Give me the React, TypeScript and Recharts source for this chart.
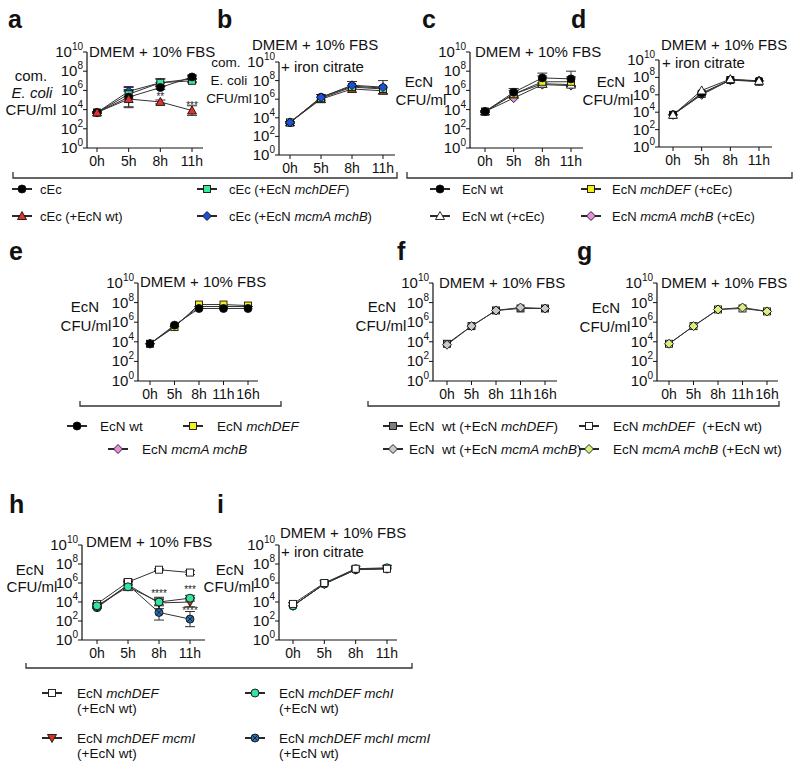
import React from "react";
import { LineChart, Line, XAxis, YAxis, ErrorBar, LabelList } from "recharts";

const HOURS4 = ["0h", "5h", "8h", "11h"];
const HOURS5 = ["0h", "5h", "8h", "11h", "16h"];
const Y_TICKS = [0, 2, 4, 6, 8, 10];
const TITLE = "DMEM + 10% FBS";
const IRON = "+ iron citrate";

// all values are log10 CFU/ml
// a: commensal E. coli
const aCEc = [3.7, 5.3, 6.3, 7.4];
const aCEcErr = [0.1, 1.0, 0.2, 0.2];
const aCEcWt = [3.7, 5.1, 4.8, 3.9];
const aCEcWtErr = [0.1, 0.9, 0.2, 0.5];
const aCEcWtStars = ["", "", "**", "***"];
const aCEcMch = [3.7, 5.6, 6.8, 7.0];
const aCEcMchErr = [0.1, 0.5, 0.4, 0.2];
const aCEcMcm = [3.7, 5.9, 6.8, 7.2];
const aCEcMcmErr = [0.1, 0.5, 0.4, 0.3];

// b: commensal E. coli + iron citrate
const bCEc = [3.5, 6.2, 7.4, 7.2];
const bCEcWt = [3.5, 6.0, 7.1, 6.9];
const bCEcMch = [3.5, 6.1, 7.3, 7.1];
const bCEcMcm = [3.5, 6.2, 7.5, 7.3];
const bCEcMcmErr = [0.1, 0.3, 0.4, 0.7];

// c: EcN
const cWt = [3.8, 5.8, 7.3, 7.2];
const cWtErr = [0.1, 0.4, 0.5, 0.8];
const cWtCEc = [3.8, 5.6, 6.7, 6.6];
const cMch = [3.8, 5.6, 6.9, 6.9];
const cMchErr = [0.1, 0.4, 0.6, 0.5];
const cMcm = [3.8, 5.2, 6.6, 6.5];

// d: EcN + iron citrate
const dWt = [3.7, 6.2, 7.7, 7.6];
const dWtCEc = [3.7, 6.5, 7.8, 7.6];
const dMch = [3.7, 6.1, 7.7, 7.5];
const dMcm = [3.7, 6.0, 7.7, 7.6];

// e: EcN mono culture
const eWt = [3.8, 5.7, 7.4, 7.4, 7.4];
const eMch = [3.8, 5.5, 7.8, 7.8, 7.7];
const eMcm = [3.8, 5.6, 7.6, 7.6, 7.6];

// f, g: co-culture
const fWtMch = [3.8, 5.6, 7.2, 7.4, 7.4];
const fWtMcm = [3.7, 5.6, 7.2, 7.5, 7.4];
const gMchWt = [3.8, 5.6, 7.3, 7.4, 7.1];
const gMcmWt = [3.8, 5.6, 7.3, 7.5, 7.1];

// h: EcN mutants + EcN wt
const hMch = [3.8, 6.1, 7.4, 7.1];
const hMchErr = [0.1, 0.3, 0.1, 0.2];
const hMchI = [3.6, 5.6, 4.0, 4.4];
const hMchIErr = [0.1, 0.4, 0.4, 0.3];
const hMchIStars = ["", "", "****", "***"];
const hMcmI = [3.5, 5.8, 3.9, 4.0];
const hMcmIErr = [0.1, 0.4, 0.6, 0.5];
const hBoth = [3.4, 5.8, 2.9, 2.2];
const hBothErr = [0.1, 0.4, 0.8, 0.8];
const hBothStars = ["", "", "", "****"];

// i: EcN mutants + EcN wt + iron citrate
const iMch = [3.8, 6.0, 7.5, 7.5];
const iMchI = [3.6, 5.9, 7.5, 7.6];
const iMcmI = [3.6, 5.9, 7.4, 7.5];
const iBoth = [3.6, 5.9, 7.4, 7.5];

const RED = "#e5312b";
const GREEN = "#3ee89a";
const BLUE = "#1f4fd6";
const YELLOW = "#f6ee1c";
const PINK = "#ea8fe0";
const DGRAY = "#7c7c7c";
const LGRAY = "#c9c9c9";
const LIME = "#d8f07c";
const MINT = "#33e39e";
const HRED = "#d8321d";
const HBLUE = "#2a6db3";

type Series = { values: number[]; err?: number[]; stars?: string[]; shape: string; fill: string };
type Box = { ax0: number; ay0: number; ay1: number; ax1: number; p0: number; pN: number };

function Marker({ cx, cy, shape, fill }: { cx?: number; cy?: number; shape: string; fill: string }) {
  if (cx == null || cy == null) return null;
  const st = { fill, stroke: "#111", strokeWidth: 0.9 };
  switch (shape) {
    case "square":
      return <rect x={cx - 3.5} y={cy - 3.5} width={7} height={7} {...st} />;
    case "tri":
      return <path d={`M${cx} ${cy - 4.5}L${cx + 4.5} ${cy + 3.5}L${cx - 4.5} ${cy + 3.5}Z`} {...st} />;
    case "triDown":
      return <path d={`M${cx} ${cy + 4.5}L${cx + 4.5} ${cy - 3.5}L${cx - 4.5} ${cy - 3.5}Z`} {...st} />;
    case "diamond":
      return <path d={`M${cx} ${cy - 4.5}L${cx + 4.5} ${cy}L${cx} ${cy + 4.5}L${cx - 4.5} ${cy}Z`} {...st} />;
    case "circleX":
      return (
        <g>
          <circle cx={cx} cy={cy} r={4} {...st} />
          <path d={`M${cx - 2.8} ${cy - 2.8}L${cx + 2.8} ${cy + 2.8}M${cx - 2.8} ${cy + 2.8}L${cx + 2.8} ${cy - 2.8}`} stroke="#111" strokeWidth={0.8} />
        </g>
      );
    default:
      return <circle cx={cx} cy={cy} r={4} {...st} />;
  }
}

function PowTick(props: any) {
  const { x, y, payload } = props;
  return (
    <text x={x + 2} y={y} dy={5} textAnchor="end" fontSize={15} fill="#111">
      10<tspan dy={-7} fontSize={10}>{payload.value}</tspan>
    </text>
  );
}

function Panel({ box, hours, series, starOffset = 5 }: { box: Box; hours: string[]; series: Series[]; starOffset?: number }) {
  const yW = 60;
  const mt = 10;
  const xH = 28;
  const mr = 4;
  const w = box.ax1 - box.ax0 + yW + mr;
  const h = box.ay1 - box.ay0 + mt + xH;
  const rows = hours.map((t, i) => {
    const r: any = { t };
    series.forEach((s, k) => {
      r["v" + k] = s.values[i];
      if (s.err) r["e" + k] = s.err[i];
      if (s.stars) r["s" + k] = s.stars[i];
    });
    return r;
  });
  return (
    <div style={{ position: "absolute", left: box.ax0 - yW, top: box.ay0 - mt }}>
      <LineChart width={w} height={h} data={rows} margin={{ top: mt, right: mr, bottom: 0, left: 0 }}>
        <XAxis
          dataKey="t"
          interval={0}
          height={xH}
          padding={{ left: box.p0 - box.ax0, right: box.ax1 - box.pN }}
          tickSize={4}
          tickMargin={4}
          tick={{ fontSize: 14, fill: "#111" }}
          axisLine={{ stroke: "#111", strokeWidth: 1.2 }}
          tickLine={{ stroke: "#111" }}
        />
        <YAxis
          type="number"
          width={yW}
          domain={[0, 10]}
          ticks={Y_TICKS}
          interval={0}
          tickSize={4}
          tick={<PowTick />}
          axisLine={{ stroke: "#111", strokeWidth: 1.2 }}
          tickLine={{ stroke: "#111" }}
        />
        {series.map((s, k) => (
          <Line
            key={k}
            dataKey={"v" + k}
            stroke="#333"
            strokeWidth={1}
            isAnimationActive={false}
            activeDot={false}
            dot={(p: any) => <Marker key={`m${k}-${p.index}`} cx={p.cx} cy={p.cy} shape={s.shape} fill={s.fill} />}
          >
            {s.err && <ErrorBar dataKey={"e" + k} width={5} stroke="#333" strokeWidth={1} direction="y" />}
            {s.stars && (
              <LabelList dataKey={"s" + k} position="top" offset={starOffset} fontSize={10} fill="#222" stroke="none" />
            )}
          </Line>
        ))}
      </LineChart>
    </div>
  );
}

const boxA = { ax0: 87, ay0: 52, ay1: 148, ax1: 203, p0: 97, pN: 192 };
const boxB = { ax0: 279, ay0: 62, ay1: 155, ax1: 395, p0: 290, pN: 383 };
const boxC = { ax0: 470, ay0: 52, ay1: 148, ax1: 583, p0: 485, pN: 571 };
const boxD = { ax0: 659, ay0: 60, ay1: 147, ax1: 772, p0: 673, pN: 759 };
const boxE = { ax0: 138, ay0: 283, ay1: 381, ax1: 258, p0: 150, pN: 248 };
const boxF = { ax0: 433, ay0: 283, ay1: 381, ax1: 557, p0: 447, pN: 545 };
const boxG = { ax0: 657, ay0: 283, ay1: 381, ax1: 778, p0: 669, pN: 767 };
const boxH = { ax0: 82, ay0: 545, ay1: 640, ax1: 205, p0: 97, pN: 190 };
const boxI = { ax0: 279, ay0: 545, ay1: 640, ax1: 397, p0: 293, pN: 387 };

type Seg = [string, boolean?];

function LegendItem({ x, y, tx, shape, fill, label, second, narrow }: { x: number; y: number; tx: number; shape: string; fill: string; label: Seg[]; second?: string; narrow?: boolean }) {
  const font = narrow ? "'Liberation Sans Narrow', 'Arial Narrow', 'Liberation Sans', sans-serif" : "'Liberation Sans', Arial, sans-serif";
  const fs = narrow ? 13 : 13.5;
  return (
    <g>
      <line x1={x - 10} x2={x + 10} y1={y} y2={y} stroke="#111" strokeWidth={1.8} />
      <Marker cx={x} cy={y} shape={shape} fill={fill} />
      <text x={tx} y={y} dy={4.5} fontSize={fs} fontFamily={font} fill="#111" style={{ whiteSpace: "pre" }}>
        {label.map(([t, it], i) => (
          <tspan key={i} fontStyle={it ? "italic" : "normal"}>{t}</tspan>
        ))}
      </text>
      {second && (
        <text x={tx} y={y + 15} dy={4.5} fontSize={fs} fontFamily={font} fill="#111">
          {second}
        </text>
      )}
    </g>
  );
}

function Overlay() {
  const t = (x: number, y: number, s: string, key: string) => (
    <text key={key} x={x} y={y} dy={5} fontSize={15} fill="#111">{s}</text>
  );
  const yl = (x: number, y: number, s: string, key: string, italic?: boolean, fs = 15) => (
    <text key={key} x={x} y={y} dy={5} fontSize={fs} fill="#111" textAnchor="middle" fontStyle={italic ? "italic" : "normal"}>{s}</text>
  );
  const letter = (x: number, y: number, s: string) => (
    <text key={"L" + s} x={x} y={y} fontSize={25} fontWeight="bold" fill="#111">{s}</text>
  );
  return (
    <svg width={800} height={769} style={{ position: "absolute", left: 0, top: 0, pointerEvents: "none" }}>
      {letter(8, 28, "a")}
      {letter(217, 28, "b")}
      {letter(422, 28, "c")}
      {letter(571, 28, "d")}
      {letter(9, 260, "e")}
      {letter(397, 260, "f")}
      {letter(577, 260, "g")}
      {letter(9, 513, "h")}
      {letter(217, 513, "i")}

      {t(89, 52, TITLE, "ta")}
      {t(252, 45, TITLE, "tb")}
      {t(281, 67, IRON, "tb2")}
      {t(475, 52, TITLE, "tc")}
      {t(661, 45, TITLE, "td")}
      {t(662, 63, IRON, "td2")}
      {t(140, 282, TITLE, "te")}
      {t(439, 283, TITLE, "tf")}
      {t(661, 283, TITLE, "tg")}
      {t(86, 542, TITLE, "th")}
      {t(280, 533, TITLE, "ti")}
      {t(281, 552, IRON, "ti2")}

      {yl(31, 76, "com.", "ya1")}
      {yl(32, 93, "E. coli", "ya2", true)}
      {yl(31, 110, "CFU/ml", "ya3")}
      {yl(226, 62, "com.", "yb1", false, 13.5)}
      {yl(229, 80, "E. coli", "yb2", false, 13.5)}
      {yl(229, 98, "CFU/ml", "yb3", false, 13.5)}
      {yl(419, 82, "EcN", "yc1")}
      {yl(421, 100, "CFU/ml", "yc2")}
      {yl(611, 82, "EcN", "yd1")}
      {yl(608, 100, "CFU/ml", "yd2")}
      {yl(85, 307, "EcN", "ye1")}
      {yl(86, 326, "CFU/ml", "ye2")}
      {yl(382, 307, "EcN", "yf1")}
      {yl(381, 326, "CFU/ml", "yf2")}
      {yl(606, 308, "EcN", "yg1")}
      {yl(605, 327, "CFU/ml", "yg2")}
      {yl(30, 570, "EcN", "yh1")}
      {yl(32, 587, "CFU/ml", "yh2")}
      {yl(230, 570, "EcN", "yi1")}
      {yl(229, 587, "CFU/ml", "yi2")}

      <g stroke="#333" strokeWidth={1.3} fill="none">
        <path d="M13 172V178H397V172" />
        <path d="M407 172V178H792V172" />
        <path d="M80 401V406H281V401" />
        <path d="M368 401V406H779V401" />
        <path d="M26 663V668H412V663" />
      </g>

      <LegendItem narrow x={22} y={189} tx={40} shape="circle" fill="#000" label={[["cEc"]]} />
      <LegendItem narrow x={207} y={189} tx={229} shape="square" fill={GREEN} label={[["cEc (+EcN "], ["mchDEF", true], [")"]]} />
      <LegendItem narrow x={22} y={216} tx={40} shape="tri" fill={RED} label={[["cEc (+EcN wt)"]]} />
      <LegendItem narrow x={207} y={216} tx={229} shape="diamond" fill={BLUE} label={[["cEc (+EcN "], ["mcmA mchB", true], [")"]]} />
      <LegendItem narrow x={440} y={189} tx={462} shape="circle" fill="#000" label={[["EcN wt"]]} />
      <LegendItem narrow x={591} y={189} tx={612} shape="square" fill={YELLOW} label={[["EcN "], ["mchDEF", true], [" (+cEc)"]]} />
      <LegendItem narrow x={440} y={216} tx={462} shape="tri" fill="#fff" label={[["EcN wt (+cEc)"]]} />
      <LegendItem narrow x={591} y={216} tx={612} shape="diamond" fill={PINK} label={[["EcN "], ["mcmA mchB", true], [" (+cEc)"]]} />

      <LegendItem x={77} y={426} tx={100} shape="circle" fill="#000" label={[["EcN wt"]]} />
      <LegendItem x={193} y={426} tx={217} shape="square" fill={YELLOW} label={[["EcN "], ["mchDEF", true]]} />
      <LegendItem x={118} y={449} tx={142} shape="diamond" fill={PINK} label={[["EcN "], ["mcmA mchB", true]]} />

      <LegendItem x={393} y={426} tx={409} shape="square" fill={DGRAY} label={[["EcN  wt (+EcN "], ["mchDEF", true], [")"]]} />
      <LegendItem x={589} y={426} tx={613} shape="square" fill="#fff" label={[["EcN "], ["mchDEF", true], ["  (+EcN wt)"]]} />
      <LegendItem x={393} y={449} tx={409} shape="diamond" fill={LGRAY} label={[["EcN  wt (+EcN "], ["mcmA mchB", true], [")"]]} />
      <LegendItem x={589} y={449} tx={613} shape="diamond" fill={LIME} label={[["EcN "], ["mcmA mchB", true], [" (+EcN wt)"]]} />

      <LegendItem x={52} y={693} tx={77} shape="square" fill="#fff" label={[["EcN "], ["mchDEF", true]]} second="(+EcN wt)" />
      <LegendItem x={255} y={693} tx={279} shape="circle" fill={MINT} label={[["EcN "], ["mchDEF mchI", true]]} second="(+EcN wt)" />
      <LegendItem x={52} y={738} tx={77} shape="triDown" fill={HRED} label={[["EcN "], ["mchDEF mcmI", true]]} second="(+EcN wt)" />
      <LegendItem x={255} y={738} tx={279} shape="circleX" fill={HBLUE} label={[["EcN "], ["mchDEF mchI mcmI", true]]} second="(+EcN wt)" />
    </svg>
  );
}

export default function App() {
  return (
    <div
      style={{
        position: "absolute",
        left: 0,
        top: 0,
        width: 800,
        height: 769,
        background: "#fff",
        fontFamily: "'Liberation Sans', Arial, sans-serif",
      }}
    >
      <Panel
        box={boxA}
        hours={HOURS4}
        starOffset={2}
        series={[
          { values: aCEcMcm, err: aCEcMcmErr, shape: "diamond", fill: BLUE },
          { values: aCEcMch, err: aCEcMchErr, shape: "square", fill: GREEN },
          { values: aCEc, err: aCEcErr, shape: "circle", fill: "#000" },
          { values: aCEcWt, err: aCEcWtErr, stars: aCEcWtStars, shape: "tri", fill: RED },
        ]}
      />
      <Panel
        box={boxB}
        hours={HOURS4}
        series={[
          { values: bCEc, shape: "circle", fill: "#000" },
          { values: bCEcWt, shape: "tri", fill: RED },
          { values: bCEcMch, shape: "square", fill: GREEN },
          { values: bCEcMcm, err: bCEcMcmErr, shape: "diamond", fill: BLUE },
        ]}
      />
      <Panel
        box={boxC}
        hours={HOURS4}
        series={[
          { values: cMcm, shape: "diamond", fill: PINK },
          { values: cWtCEc, shape: "tri", fill: "#fff" },
          { values: cMch, err: cMchErr, shape: "square", fill: YELLOW },
          { values: cWt, err: cWtErr, shape: "circle", fill: "#000" },
        ]}
      />
      <Panel
        box={boxD}
        hours={HOURS4}
        series={[
          { values: dMcm, shape: "diamond", fill: PINK },
          { values: dMch, shape: "square", fill: YELLOW },
          { values: dWt, shape: "circle", fill: "#000" },
          { values: dWtCEc, shape: "tri", fill: "#fff" },
        ]}
      />
      <Panel
        box={boxE}
        hours={HOURS5}
        series={[
          { values: eMcm, shape: "diamond", fill: PINK },
          { values: eMch, shape: "square", fill: YELLOW },
          { values: eWt, shape: "circle", fill: "#000" },
        ]}
      />
      <Panel
        box={boxF}
        hours={HOURS5}
        series={[
          { values: fWtMch, shape: "square", fill: DGRAY },
          { values: fWtMcm, shape: "diamond", fill: LGRAY },
        ]}
      />
      <Panel
        box={boxG}
        hours={HOURS5}
        series={[
          { values: gMchWt, shape: "square", fill: "#fff" },
          { values: gMcmWt, shape: "diamond", fill: LIME },
        ]}
      />
      <Panel
        box={boxH}
        hours={HOURS4}
        series={[
          { values: hBoth, err: hBothErr, stars: hBothStars, shape: "circleX", fill: HBLUE },
          { values: hMcmI, err: hMcmIErr, shape: "triDown", fill: HRED },
          { values: hMch, err: hMchErr, shape: "square", fill: "#fff" },
          { values: hMchI, err: hMchIErr, stars: hMchIStars, shape: "circle", fill: MINT },
        ]}
      />
      <Panel
        box={boxI}
        hours={HOURS4}
        series={[
          { values: iBoth, shape: "circleX", fill: HBLUE },
          { values: iMcmI, shape: "triDown", fill: HRED },
          { values: iMchI, shape: "circle", fill: MINT },
          { values: iMch, shape: "square", fill: "#fff" },
        ]}
      />
      <Overlay />
    </div>
  );
}
